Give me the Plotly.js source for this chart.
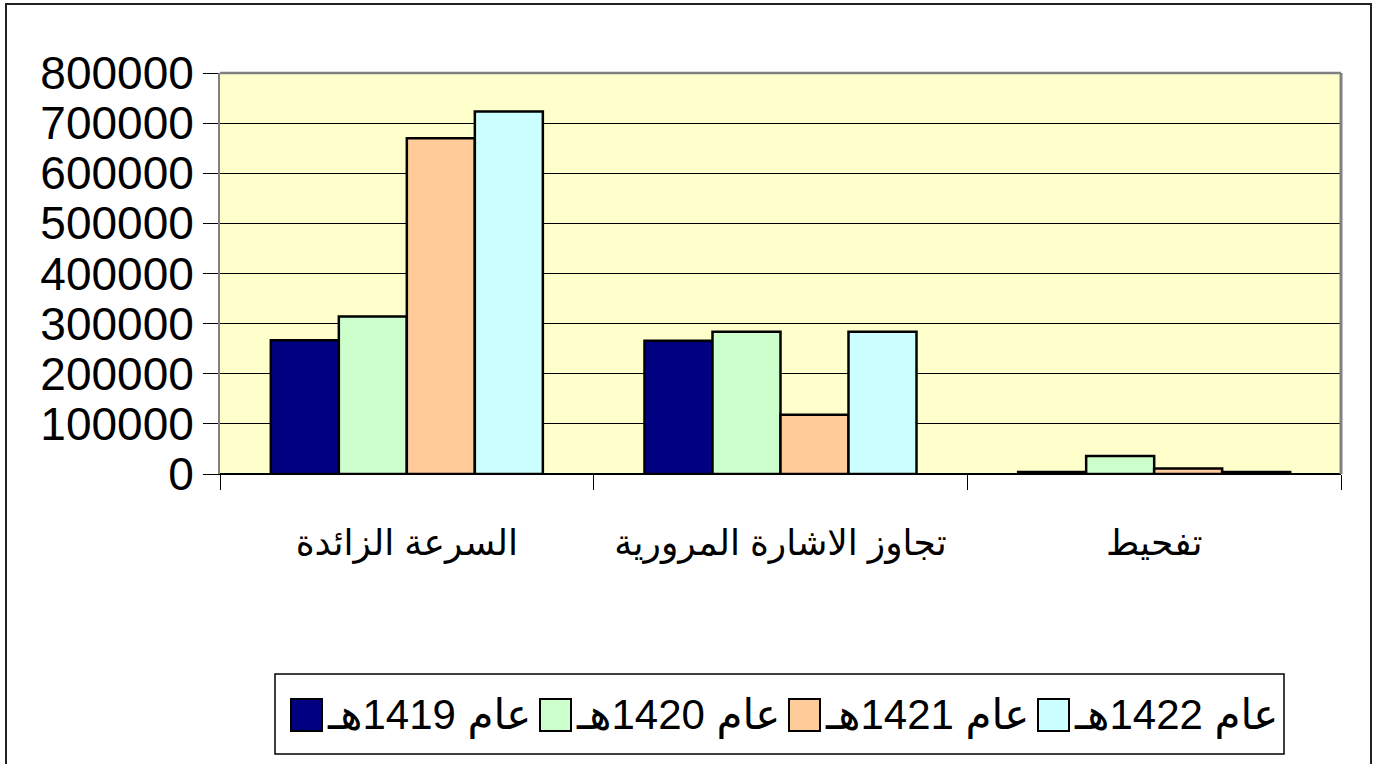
<!DOCTYPE html>
<html>
<head>
<meta charset="utf-8">
<script src="https://cdn.plot.ly/plotly-3.0.1.min.js"></script>
<style>
  html, body { margin: 0; padding: 0; background: #ffffff; }
  #chart { width: 1379px; height: 764px; }
</style>
</head>
<body>
<div id="chart"></div>
<script>
// ---- data ----
const categories = ['السرعة الزائدة', 'تجاوز الاشارة المرورية', 'تفحيط'];
const seriesNames = ['عام 1419هـ', 'عام 1420هـ', 'عام 1421هـ', 'عام 1422هـ'];
const values1419 = [267000, 266000, 4000];
const values1420 = [314000, 284000, 36000];
const values1421 = [670000, 118000, 11000];
const values1422 = [723000, 284000, 4000];
const seriesColors = ['#000080', '#CCFFCC', '#FFCC99', '#CCFFFF'];
const yTickValues = [0, 100000, 200000, 300000, 400000, 500000, 600000, 700000, 800000];
const yTickLabels = ['0', '100000', '200000', '300000', '400000', '500000', '600000', '700000', '800000'];

const allValues = [values1419, values1420, values1421, values1422];

// ---- layout geometry (pixels) ----
const W = 1379, H = 764;
const M = { l: 220, r: 38, t: 73, b: 290 };
const plotW = W - M.l - M.r;
const plotH = H - M.t - M.b;
const px = x => (x - M.l) / plotW;          // pixel x -> paper x
const py = y => (H - M.b - y) / plotH;      // pixel y -> paper y

const fontLatin = 'Liberation Sans, Arial, DejaVu Sans, sans-serif';
const fontArabic = 'Liberation Sans, DejaVu Sans, sans-serif';

const traces = seriesNames.map((name, i) => ({
  type: 'bar',
  name: name,
  x: categories,
  y: allValues[i],
  marker: { color: seriesColors[i], line: { color: '#000000', width: 2.5 } },
  showlegend: false,
  hoverinfo: 'skip'
}));

// ---- custom legend (large swatches like the original) ----
const shapes = [];
const annotations = [];

// outer chart frame
shapes.push({
  type: 'rect', xref: 'paper', yref: 'paper',
  x0: px(6), x1: px(1371), y0: py(800), y1: py(4),
  line: { color: '#222222', width: 2 }, fillcolor: 'rgba(0,0,0,0)', layer: 'above'
});
// plot area border (top and right, grey)
shapes.push({
  type: 'line', xref: 'paper', yref: 'paper',
  x0: 0, x1: 1, y0: 1, y1: 1,
  line: { color: '#808080', width: 2.5 }, layer: 'above'
});
shapes.push({
  type: 'line', xref: 'paper', yref: 'paper',
  x0: 1, x1: 1, y0: 0, y1: 1,
  line: { color: '#808080', width: 3 }, layer: 'above'
});
// legend box
shapes.push({
  type: 'rect', xref: 'paper', yref: 'paper',
  x0: px(275), x1: px(1284), y0: py(754), y1: py(674),
  line: { color: '#000000', width: 1.5 }, fillcolor: '#ffffff', layer: 'above'
});

const legStart = 291, legStep = 249, swW = 31, swTop = 699, swBot = 731;
seriesNames.forEach((name, i) => {
  const sx = legStart + i * legStep;
  shapes.push({
    type: 'rect', xref: 'paper', yref: 'paper',
    x0: px(sx), x1: px(sx + swW), y0: py(swBot), y1: py(swTop),
    line: { color: '#000000', width: 2 }, fillcolor: seriesColors[i], layer: 'above'
  });
  annotations.push({
    xref: 'paper', yref: 'paper',
    x: px(sx + swW + 3), y: py((swTop + swBot) / 2),
    xanchor: 'left', yanchor: 'middle',
    text: name, showarrow: false,
    font: { family: fontArabic, size: 42, color: '#000000' }
  });
});

const layout = {
  width: W, height: H,
  margin: M,
  paper_bgcolor: '#ffffff',
  plot_bgcolor: '#FFFFCC',
  barmode: 'group',
  bargap: 0.272,
  bargroupgap: 0,
  showlegend: false,
  xaxis: {
    type: 'category',
    showline: true, linecolor: '#000000', linewidth: 1,
    ticks: 'outside', tickson: 'boundaries', ticklen: 15, tickcolor: '#000000', tickwidth: 1,
    tickangle: 0,
    ticklabelstandoff: 37,
    tickfont: { family: fontArabic, size: 36, color: '#000000' },
    showgrid: false, zeroline: false, fixedrange: true
  },
  yaxis: {
    range: [0, 800000],
    tickvals: yTickValues, ticktext: yTickLabels,
    showline: true, linecolor: '#808080', linewidth: 2,
    ticks: 'outside', ticklen: 15, tickcolor: '#000000', tickwidth: 1,
    showgrid: true, gridcolor: '#000000', gridwidth: 1,
    zeroline: true, zerolinecolor: '#000000', zerolinewidth: 1.5,
    tickfont: { family: fontLatin, size: 46, color: '#000000' },
    fixedrange: true
  },
  shapes: shapes,
  annotations: annotations
};

Plotly.newPlot('chart', traces, layout, { displayModeBar: false, staticPlot: true });
</script>
</body>
</html>
